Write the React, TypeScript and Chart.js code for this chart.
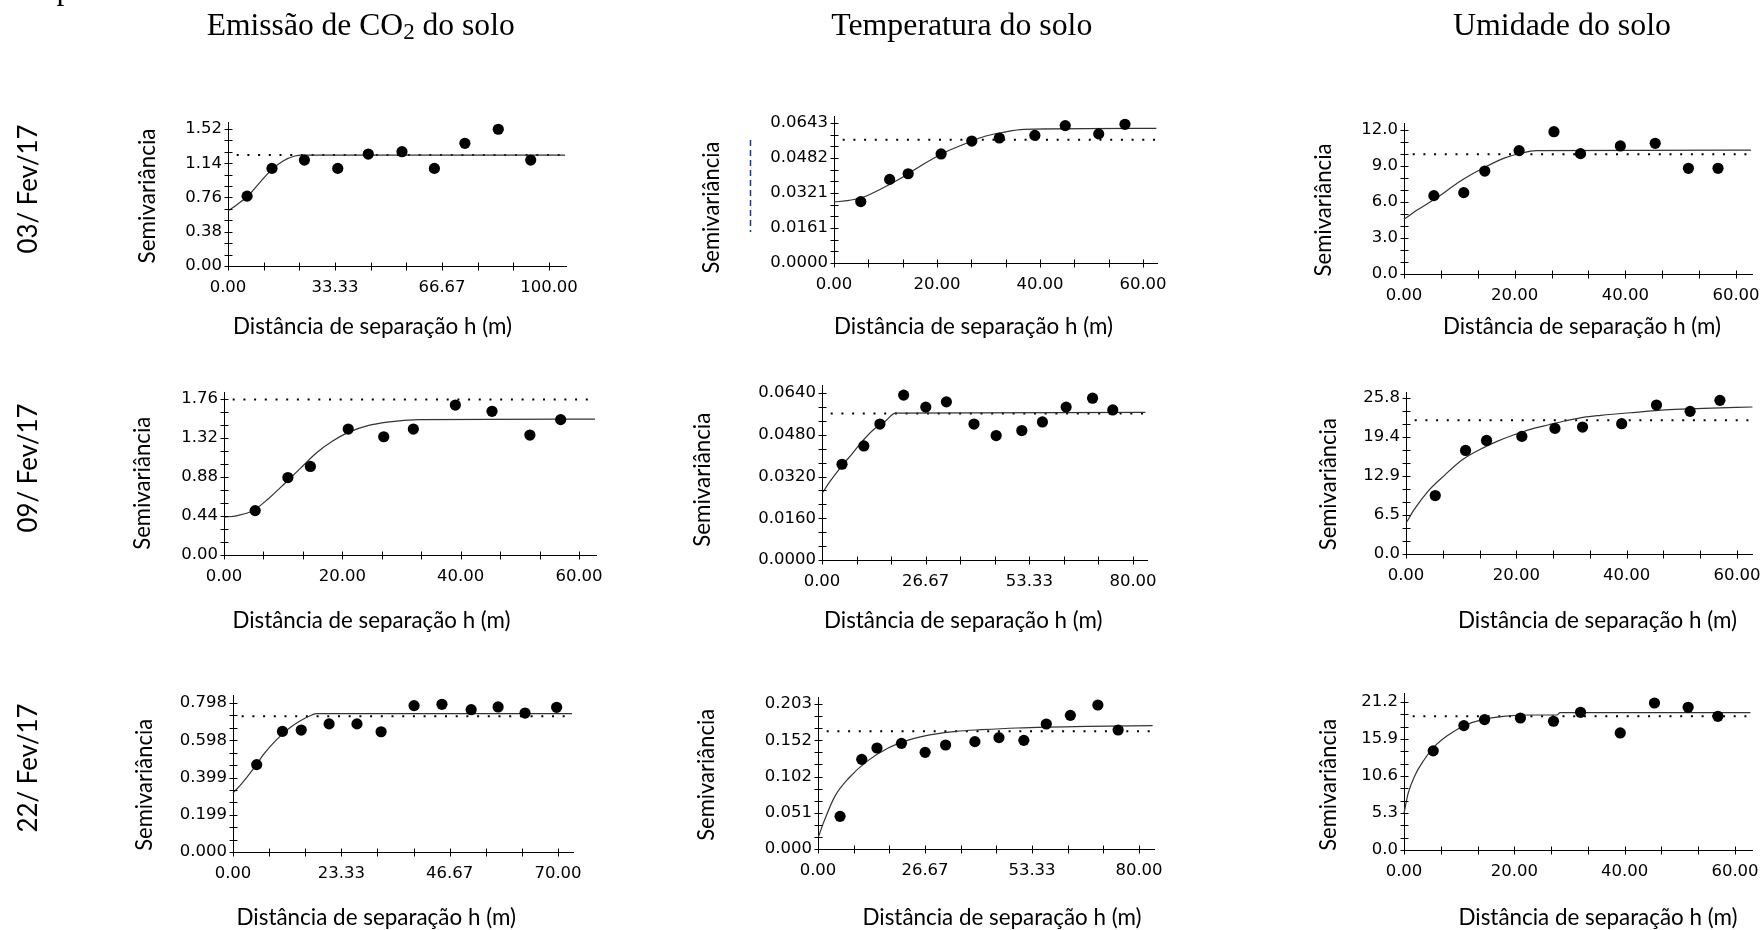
import React, { useEffect, useRef } from 'react';
import { Chart, registerables } from 'chart.js';

Chart.register(...registerables);

// ---------- 03/Fev/17 ----------
const emissaoFev03Lag = [5.95, 13.7, 23.8, 34.2, 43.7, 54.2, 64.3, 73.8, 84.2, 94.3];
const emissaoFev03Semiv = [0.775, 1.083, 1.175, 1.083, 1.242, 1.268, 1.083, 1.361, 1.517, 1.175];
const emissaoFev03ModelLag = [0, 2.98, 5.95, 10.1, 13.7, 17.3, 20.8, 23.2, 105];
const emissaoFev03ModelSemiv = [0.612, 0.686, 0.768, 0.934, 1.072, 1.168, 1.22, 1.231, 1.231];
const emissaoFev03Sill = 1.231;
const emissaoFev03XLabels = ['0.00', '33.33', '66.67', '100.00'];
const emissaoFev03YLabels = ['0.00', '0.38', '0.76', '1.14', '1.52'];

const temperaturaFev03Lag = [5.2, 10.8, 14.4, 20.8, 26.75, 32.1, 39.0, 44.9, 51.4, 56.5];
const temperaturaFev03Semiv = [0.0282, 0.0384, 0.041, 0.0501, 0.056, 0.0574, 0.0586, 0.0631, 0.0593, 0.0637];
const temperaturaFev03ModelLag = [0, 2.98, 5.75, 9.2, 13.4, 17.5, 21.7, 25.8, 29.3, 32.8, 36.9, 62.6];
const temperaturaFev03ModelSemiv = [0.028, 0.0288, 0.0303, 0.0341, 0.0395, 0.0456, 0.051, 0.0551, 0.0582, 0.06, 0.0614, 0.0618];
const temperaturaFev03Sill = 0.0566;
const temperaturaFev03XLabels = ['0.00', '20.00', '40.00', '60.00'];
const temperaturaFev03YLabels = ['0.0000', '0.0161', '0.0321', '0.0482', '0.0643'];

const umidadeFev03Lag = [5.4, 10.8, 14.6, 20.8, 27.1, 31.9, 39.1, 45.4, 51.4, 56.75];
const umidadeFev03Semiv = [6.53, 6.78, 8.58, 10.28, 11.86, 10.03, 10.67, 10.89, 8.81, 8.81];
const umidadeFev03ModelLag = [0, 2.38, 5.5, 10.5, 14.25, 18.0, 21.1, 23.9, 62.7];
const umidadeFev03ModelSemiv = [4.56, 5.33, 6.22, 7.83, 8.81, 9.64, 10.06, 10.28, 10.33];
const umidadeFev03Sill = 9.97;
const umidadeFev03XLabels = ['0.00', '20.00', '40.00', '60.00'];
const umidadeFev03YLabels = ['0.0', '3.0', '6.0', '9.0', '12.0'];

// ---------- 09/Fev/17 ----------
const emissaoFev09Lag = [5.27, 10.8, 14.6, 21.0, 27.0, 32.0, 39.1, 45.3, 51.7, 56.9];
const emissaoFev09Semiv = [0.501, 0.874, 0.999, 1.421, 1.334, 1.421, 1.692, 1.621, 1.353, 1.527];
const emissaoFev09ModelLag = [0, 2.27, 4.94, 7.6, 10.3, 12.95, 15.6, 18.3, 21.0, 24.3, 27.6, 33.0, 62.7];
const emissaoFev09ModelSemiv = [0.426, 0.445, 0.501, 0.641, 0.81, 0.98, 1.15, 1.282, 1.383, 1.459, 1.5, 1.527, 1.534];
const emissaoFev09Sill = 1.753;
const emissaoFev09XLabels = ['0.00', '20.00', '40.00', '60.00'];
const emissaoFev09YLabels = ['0.00', '0.44', '0.88', '1.32', '1.76'];

const temperaturaFev09Lag = [5.15, 10.76, 14.9, 21.0, 26.7, 32.0, 39.1, 44.8, 51.4, 56.7, 62.8, 69.6, 74.8];
const temperaturaFev09Semiv = [0.0367, 0.0437, 0.0521, 0.0632, 0.0586, 0.0606, 0.0521, 0.0477, 0.0496, 0.0529, 0.0586, 0.062, 0.0575];
const temperaturaFev09ModelLag = [0, 2.3, 5.06, 7.8, 10.6, 13.3, 16.1, 18.9, 83.2];
const temperaturaFev09ModelSemiv = [0.0255, 0.0306, 0.036, 0.0408, 0.0459, 0.05, 0.0529, 0.0563, 0.0566];
const temperaturaFev09Sill = 0.0561;
const temperaturaFev09XLabels = ['0.00', '26.67', '53.33', '80.00'];
const temperaturaFev09YLabels = ['0.0000', '0.0160', '0.0320', '0.0480', '0.0640'];

const umidadeFev09Lag = [5.3, 10.8, 14.6, 21.0, 27.0, 32.0, 39.1, 45.4, 51.5, 56.9];
const umidadeFev09Semiv = [9.67, 17.13, 18.78, 19.45, 20.77, 20.99, 21.55, 24.64, 23.59, 25.41];
const umidadeFev09ModelLag = [0, 1.44, 3.94, 7.07, 10.2, 13.3, 16.5, 19.6, 22.7, 25.9, 29.0, 32.1, 35.3, 41.6, 47.8, 54.0, 62.8];
const umidadeFev09ModelSemiv = [5.08, 7.29, 10.33, 13.09, 15.58, 17.24, 18.62, 19.72, 20.66, 21.38, 22.04, 22.6, 22.93, 23.43, 23.87, 24.09, 24.31];
const umidadeFev09Sill = 22.1;
const umidadeFev09XLabels = ['0.00', '20.00', '40.00', '60.00'];
const umidadeFev09YLabels = ['0.0', '6.5', '12.9', '19.4', '25.8'];

// ---------- 22/Fev/17 ----------
const emissaoFev22Lag = [5.1, 10.65, 14.7, 20.7, 26.7, 31.9, 39.0, 45.0, 51.3, 57.1, 62.9, 69.7];
const emissaoFev22Semiv = [0.468, 0.646, 0.653, 0.686, 0.686, 0.644, 0.784, 0.791, 0.762, 0.777, 0.744, 0.775];
const emissaoFev22ModelLag = [0, 1.7, 4.26, 6.8, 9.4, 11.9, 14.5, 17.0, 17.9, 73.0];
const emissaoFev22ModelSemiv = [0.316, 0.361, 0.441, 0.53, 0.602, 0.659, 0.703, 0.734, 0.741, 0.741];
const emissaoFev22Sill = 0.7265;
const emissaoFev22XLabels = ['0.00', '23.33', '46.67', '70.00'];
const emissaoFev22YLabels = ['0.000', '0.199', '0.399', '0.598', '0.798'];

const temperaturaFev22Lag = [5.5, 10.9, 14.7, 20.8, 26.7, 31.8, 39.1, 45.1, 51.3, 56.9, 62.9, 69.75, 74.8];
const temperaturaFev22Semiv = [0.0457, 0.1255, 0.1414, 0.1479, 0.1353, 0.1456, 0.1503, 0.1559, 0.1521, 0.175, 0.1871, 0.2016, 0.1666];
const temperaturaFev22ModelLag = [0, 1.5, 4.2, 7.7, 12.2, 17.5, 22.9, 28.2, 34.4, 40.7, 49.6, 67.3, 83.4];
const temperaturaFev22ModelSemiv = [0.0154, 0.0387, 0.0737, 0.0994, 0.1227, 0.1414, 0.1531, 0.16, 0.1647, 0.167, 0.1694, 0.1717, 0.1727];
const temperaturaFev22Sill = 0.1647;
const temperaturaFev22XLabels = ['0.00', '26.67', '53.33', '80.00'];
const temperaturaFev22YLabels = ['0.000', '0.051', '0.102', '0.152', '0.203'];

const umidadeFev22Lag = [5.3, 10.85, 14.6, 21.1, 27.1, 32.0, 39.2, 45.4, 51.5, 56.9];
const umidadeFev22Semiv = [14.2, 17.82, 18.68, 18.91, 18.44, 19.72, 16.77, 21.06, 20.44, 19.15];
const umidadeFev22ModelLag = [0, 0.75, 2.0, 3.6, 5.45, 7.96, 11.1, 14.2, 18.0, 23.0, 27.7, 28.3, 62.8];
const umidadeFev22ModelSemiv = [5.24, 8.1, 10.72, 12.86, 14.77, 16.44, 17.87, 18.68, 19.15, 19.34, 19.34, 19.68, 19.68];
const umidadeFev22Sill = 19.15;
const umidadeFev22XLabels = ['0.00', '20.00', '40.00', '60.00'];
const umidadeFev22YLabels = ['0.0', '5.3', '10.6', '15.9', '21.2'];

const rowLabels = ['03/ Fev/17', '09/ Fev/17', '22/ Fev/17'];
const yAxisTitle = 'Semivariância';
const xAxisTitle = 'Distância de separação h (m)';

// ---------- layout ----------
const AXIS_W = 80; // room left of the plot for y tick labels
const AXIS_H = 40; // room below the plot for x tick labels
const PAD_T = 15;
const PAD_R = 45;
const TICK_FONT = "'DejaVu Sans', Verdana, sans-serif";
const SANS = "Lato, 'Open Sans', sans-serif";
const SERIF = "'Liberation Serif', 'Times New Roman', serif";

type Box = { left: number; top: number; right: number; bottom: number; xTickPx: number; yTickPx: number };
type Panel = {
  lag: number[];
  semiv: number[];
  modelLag: number[];
  modelSemiv: number[];
  sill: number;
  xLabels: string[];
  yLabels: string[];
  box: Box;
  yTitle: { x: number; cy: number; len: number };
  xTitle: { x: number; y: number; len: number };
};

const panels: Panel[] = [
  {
    lag: emissaoFev03Lag, semiv: emissaoFev03Semiv, modelLag: emissaoFev03ModelLag, modelSemiv: emissaoFev03ModelSemiv,
    sill: emissaoFev03Sill, xLabels: emissaoFev03XLabels, yLabels: emissaoFev03YLabels,
    box: { left: 228, top: 122, right: 566, bottom: 266, xTickPx: 549, yTickPx: 129 },
    yTitle: { x: 155, cy: 196, len: 135 }, xTitle: { x: 233, y: 333.5, len: 279 },
  },
  {
    lag: temperaturaFev03Lag, semiv: temperaturaFev03Semiv, modelLag: temperaturaFev03ModelLag, modelSemiv: temperaturaFev03ModelSemiv,
    sill: temperaturaFev03Sill, xLabels: temperaturaFev03XLabels, yLabels: temperaturaFev03YLabels,
    box: { left: 834, top: 116, right: 1157, bottom: 263, xTickPx: 1143, yTickPx: 123 },
    yTitle: { x: 719, cy: 207.5, len: 132 }, xTitle: { x: 834, y: 334, len: 279 },
  },
  {
    lag: umidadeFev03Lag, semiv: umidadeFev03Semiv, modelLag: umidadeFev03ModelLag, modelSemiv: umidadeFev03ModelSemiv,
    sill: umidadeFev03Sill, xLabels: umidadeFev03XLabels, yLabels: umidadeFev03YLabels,
    box: { left: 1404, top: 123, right: 1752, bottom: 274, xTickPx: 1736, yTickPx: 130 },
    yTitle: { x: 1330.5, cy: 210, len: 133 }, xTitle: { x: 1443, y: 334, len: 278 },
  },
  {
    lag: emissaoFev09Lag, semiv: emissaoFev09Semiv, modelLag: emissaoFev09ModelLag, modelSemiv: emissaoFev09ModelSemiv,
    sill: emissaoFev09Sill, xLabels: emissaoFev09XLabels, yLabels: emissaoFev09YLabels,
    box: { left: 224, top: 392, right: 596, bottom: 555, xTickPx: 579, yTickPx: 399 },
    yTitle: { x: 149.5, cy: 483.3, len: 133 }, xTitle: { x: 232.5, y: 627.5, len: 278 },
  },
  {
    lag: temperaturaFev09Lag, semiv: temperaturaFev09Semiv, modelLag: temperaturaFev09ModelLag, modelSemiv: temperaturaFev09ModelSemiv,
    sill: temperaturaFev09Sill, xLabels: temperaturaFev09XLabels, yLabels: temperaturaFev09YLabels,
    box: { left: 822, top: 385, right: 1147, bottom: 560, xTickPx: 1133, yTickPx: 393 },
    yTitle: { x: 710, cy: 479.7, len: 134 }, xTitle: { x: 824, y: 627.5, len: 278.5 },
  },
  {
    lag: umidadeFev09Lag, semiv: umidadeFev09Semiv, modelLag: umidadeFev09ModelLag, modelSemiv: umidadeFev09ModelSemiv,
    sill: umidadeFev09Sill, xLabels: umidadeFev09XLabels, yLabels: umidadeFev09YLabels,
    box: { left: 1406, top: 392, right: 1752, bottom: 554, xTickPx: 1737, yTickPx: 398 },
    yTitle: { x: 1335.8, cy: 484.2, len: 132 }, xTitle: { x: 1458, y: 627.5, len: 279 },
  },
  {
    lag: emissaoFev22Lag, semiv: emissaoFev22Semiv, modelLag: emissaoFev22ModelLag, modelSemiv: emissaoFev22ModelSemiv,
    sill: emissaoFev22Sill, xLabels: emissaoFev22XLabels, yLabels: emissaoFev22YLabels,
    box: { left: 233, top: 695, right: 573, bottom: 852, xTickPx: 558, yTickPx: 703 },
    yTitle: { x: 152.2, cy: 784.8, len: 132 }, xTitle: { x: 236.5, y: 924.5, len: 279.5 },
  },
  {
    lag: temperaturaFev22Lag, semiv: temperaturaFev22Semiv, modelLag: temperaturaFev22ModelLag, modelSemiv: temperaturaFev22ModelSemiv,
    sill: temperaturaFev22Sill, xLabels: temperaturaFev22XLabels, yLabels: temperaturaFev22YLabels,
    box: { left: 818, top: 697, right: 1154, bottom: 849, xTickPx: 1139, yTickPx: 704 },
    yTitle: { x: 714.3, cy: 774.8, len: 132 }, xTitle: { x: 862.5, y: 924.5, len: 279 },
  },
  {
    lag: umidadeFev22Lag, semiv: umidadeFev22Semiv, modelLag: umidadeFev22ModelLag, modelSemiv: umidadeFev22ModelSemiv,
    sill: umidadeFev22Sill, xLabels: umidadeFev22XLabels, yLabels: umidadeFev22YLabels,
    box: { left: 1404, top: 693, right: 1752, bottom: 850, xTickPx: 1735, yTickPx: 702 },
    yTitle: { x: 1335.8, cy: 784.8, len: 132 }, xTitle: { x: 1458.5, y: 924.5, len: 279 },
  },
];

const rowLabelPos = [
  { x: 37, cy: 189 },
  { x: 37, cy: 468 },
  { x: 37, cy: 768 },
];

// Major ticks come from the label list; two unlabeled minor ticks sit between majors.
function buildTicks(labels: string[], max: number) {
  const last = Number(labels[labels.length - 1]);
  const steps = (labels.length - 1) * 3;
  const out: { value: number; label: string }[] = [];
  for (let i = 0; ; i++) {
    const v = (last * i) / steps;
    if (v > max + 1e-9) break;
    out.push({ value: v, label: i % 3 === 0 ? labels[i / 3] ?? '' : '' });
  }
  return out;
}

// Short tick marks crossing both axis lines.
const crossTicks = {
  id: 'crossTicks',
  afterDraw(chart: any) {
    const { ctx, chartArea, scales } = chart;
    ctx.save();
    ctx.strokeStyle = '#000';
    ctx.lineWidth = 1;
    ctx.beginPath();
    const yb = Math.round(chartArea.bottom) + 0.5;
    for (const t of scales.x.ticks) {
      const px = Math.round(scales.x.getPixelForValue(t.value)) + 0.5;
      ctx.moveTo(px, yb - 4);
      ctx.lineTo(px, yb + 4);
    }
    const xl = Math.round(chartArea.left) + 0.5;
    for (const t of scales.y.ticks) {
      const py = Math.round(scales.y.getPixelForValue(t.value)) + 0.5;
      ctx.moveTo(xl - 4, py);
      ctx.lineTo(xl + 4, py);
    }
    ctx.stroke();
    ctx.restore();
  },
};

function Semivariogram({ panel }: { panel: Panel }) {
  const ref = useRef<HTMLCanvasElement>(null);
  const { box } = panel;
  const width = box.right - box.left + AXIS_W + PAD_R;
  const height = box.bottom - box.top + PAD_T + AXIS_H;

  useEffect(() => {
    const xLast = Number(panel.xLabels[panel.xLabels.length - 1]);
    const yLast = Number(panel.yLabels[panel.yLabels.length - 1]);
    const xMax = (xLast * (box.right - box.left)) / (box.xTickPx - box.left);
    const yMax = (yLast * (box.bottom - box.top)) / (box.bottom - box.yTickPx);
    const xt = buildTicks(panel.xLabels, xMax);
    const yt = buildTicks(panel.yLabels, yMax);
    const modelEnd = panel.modelLag[panel.modelLag.length - 1];

    const chart = new Chart(ref.current as HTMLCanvasElement, {
      type: 'scatter',
      data: {
        datasets: [
          {
            data: panel.lag.map((x, i) => ({ x, y: panel.semiv[i] })),
            pointRadius: 5.6,
            pointBackgroundColor: '#000',
            pointBorderWidth: 0,
            backgroundColor: '#000',
            borderColor: '#000',
            clip: false,
          },
          {
            data: panel.modelLag.map((x, i) => ({ x, y: panel.modelSemiv[i] })),
            showLine: true,
            borderColor: '#333',
            borderWidth: 1.2,
            pointRadius: 0,
            cubicInterpolationMode: 'monotone',
            clip: false,
          },
          {
            data: [
              { x: 0, y: panel.sill },
              { x: modelEnd, y: panel.sill },
            ],
            showLine: true,
            borderColor: '#000',
            borderWidth: 2,
            borderDash: [2, 8.7],
            borderDashOffset: 2,
            pointRadius: 0,
            clip: false,
          },
        ],
      } as any,
      options: {
        responsive: false,
        maintainAspectRatio: false,
        animation: false,
        events: [],
        layout: { padding: { left: 0, top: PAD_T, right: PAD_R, bottom: 0 }, autoPadding: false } as any,
        plugins: { legend: { display: false }, tooltip: { enabled: false } },
        scales: {
          x: {
            type: 'linear',
            min: 0,
            max: xMax,
            bounds: 'data',
            grid: { display: false, drawTicks: false },
            border: { display: true, color: '#000', width: 1 },
            ticks: {
              autoSkip: false,
              maxRotation: 0,
              padding: 12,
              color: '#000',
              font: { family: TICK_FONT, size: 16.5 },
              callback: (_v: any, i: number) => xt[i]?.label ?? '',
            },
            afterBuildTicks: (s: any) => {
              s.ticks = xt.map((t) => ({ value: t.value }));
            },
            afterFit: (s: any) => {
              s.height = AXIS_H;
              s.paddingLeft = 0;
              s.paddingRight = 0;
            },
          },
          y: {
            type: 'linear',
            min: 0,
            max: yMax,
            bounds: 'data',
            grid: { display: false, drawTicks: false },
            border: { display: true, color: '#000', width: 1 },
            ticks: {
              autoSkip: false,
              padding: 6,
              color: '#000',
              font: { family: TICK_FONT, size: 16.5 },
              callback: (_v: any, i: number) => yt[i]?.label ?? '',
            },
            afterBuildTicks: (s: any) => {
              s.ticks = yt.map((t) => ({ value: t.value }));
            },
            afterFit: (s: any) => {
              s.width = AXIS_W;
              s.paddingTop = 0;
              s.paddingBottom = 0;
            },
          },
        },
      } as any,
      plugins: [crossTicks],
    });
    return () => chart.destroy();
  }, [panel]);

  return (
    <canvas
      ref={ref}
      width={width}
      height={height}
      style={{ position: 'absolute', left: box.left - AXIS_W, top: box.top - PAD_T, width, height }}
    />
  );
}

export default function App() {
  return (
    <div
      style={{
        position: 'absolute',
        left: 0,
        top: 0,
        width: 1762,
        height: 930,
        overflow: 'hidden',
        background: '#fff',
      }}
    >
      {panels.map((p, i) => (
        <Semivariogram key={i} panel={p} />
      ))}
      <svg
        width={1762}
        height={930}
        style={{ position: 'absolute', left: 0, top: 0, pointerEvents: 'none' }}
      >
        {/* descender of a line cut off above the figure */}
        <text x={56.5} y={-1.5} fontFamily={SERIF} fontSize={31.5} fill="#000">p</text>

        <text x={360.7} y={35} textAnchor="middle" fontFamily={SERIF} fontSize={31.5} fill="#000"
          textLength={308} lengthAdjust="spacingAndGlyphs">
          Emissão de CO
          <tspan fontSize={23} dy={3.5}>2</tspan>
          <tspan dy={-3.5}>{' do solo'}</tspan>
        </text>
        <text x={961.8} y={35} textAnchor="middle" fontFamily={SERIF} fontSize={31.5} fill="#000"
          textLength={261} lengthAdjust="spacingAndGlyphs">
          Temperatura do solo
        </text>
        <text x={1562} y={35.3} textAnchor="middle" fontFamily={SERIF} fontSize={31.5} fill="#000"
          textLength={218} lengthAdjust="spacingAndGlyphs">
          Umidade do solo
        </text>

        {rowLabels.map((t, i) => (
          <text key={t} transform={`translate(${rowLabelPos[i].x} ${rowLabelPos[i].cy}) rotate(-90)`}
            textAnchor="middle" fontFamily={SANS} fontSize={27} fill="#000"
            textLength={129} lengthAdjust="spacingAndGlyphs">
            {t}
          </text>
        ))}

        {panels.map((p, i) => (
          <g key={i}>
            <text transform={`translate(${p.yTitle.x} ${p.yTitle.cy}) rotate(-90)`}
              textAnchor="middle" fontFamily={SANS} fontSize={22.5} fill="#000"
              textLength={p.yTitle.len} lengthAdjust="spacingAndGlyphs">
              {yAxisTitle}
            </text>
            <text x={p.xTitle.x} y={p.xTitle.y} fontFamily={SANS} fontSize={22.5} fill="#000"
              textLength={p.xTitle.len} lengthAdjust="spacingAndGlyphs">
              {xAxisTitle}
            </text>
          </g>
        ))}

        {/* stray mark beside the middle top panel */}
        <line x1={750.5} y1={140} x2={750.5} y2={232} stroke="#203a80" strokeWidth={1.5} strokeDasharray="6 4" />
      </svg>
    </div>
  );
}
